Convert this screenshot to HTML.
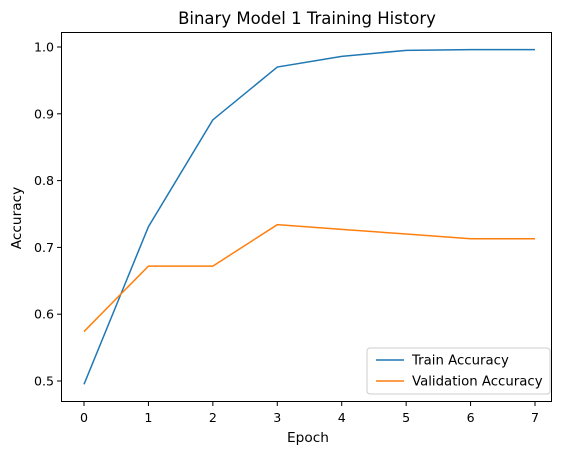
<!DOCTYPE html>
<html><head><meta charset="utf-8"><style>
body{margin:0;background:#fff;}
svg{font-family:"DejaVu Sans","Liberation Sans",sans-serif;}
</style></head><body>
<svg id="chart" width="567" height="455">
<text x="307" y="24" font-size="16.5" text-anchor="middle">Binary Model 1 Training History</text>
<text x="308" y="442" font-size="13.7" text-anchor="middle">Epoch</text>
<text transform="translate(21,218) rotate(-90)" font-size="13.7" text-anchor="middle">Accuracy</text>
<g id="ticks"></g>
<g id="series"></g>
<rect x="61.5" y="32.5" width="490" height="369" fill="none" stroke="#000" stroke-width="1"/>
<g>
<rect x="367" y="348" width="183" height="46" rx="3" fill="#fff" stroke="#ccc"/>
<line x1="376" y1="360" x2="404" y2="360" stroke="#1f77b4" stroke-width="1.5"/>
<text x="412" y="364.5" font-size="13.3">Train Accuracy</text>
<line x1="376" y1="381" x2="404" y2="381" stroke="#ff7f0e" stroke-width="1.5"/>
<text x="412" y="385.5" font-size="13.3">Validation Accuracy</text>
</g>
</svg>
<script>
const epochs=[0,1,2,3,4,5,6,7];
const trainAcc=[0.495,0.731,0.891,0.970,0.986,0.995,0.996,0.996];
const valAcc=[0.574,0.672,0.672,0.734,0.727,0.720,0.713,0.713];
const yTicks=[0.5,0.6,0.7,0.8,0.9,1.0];
const xTicks=[0,1,2,3,4,5,6,7];
const NS="http://www.w3.org/2000/svg";
const xs=v=>84+v*(535-84)/7;
const ys=v=>381-(v-0.5)*668;
const tg=document.getElementById('ticks'),sg=document.getElementById('series');
function mk(t,a,p){const e=document.createElementNS(NS,t);for(const k in a)e.setAttribute(k,a[k]);p.appendChild(e);return e;}
xTicks.forEach(t=>{
 const l=mk('line',{x1:xs(t),x2:xs(t),y1:402,y2:406,stroke:'#000'},tg);
 
 
 const tx=mk('text',{x:xs(t),y:422,'font-size':12.6,'text-anchor':'middle'},tg);tx.textContent=t;
 
 
});
yTicks.forEach(t=>{
 const l=mk('line',{x1:57,x2:61,y1:ys(t),y2:ys(t),stroke:'#000'},tg);
 
 
 const tx=mk('text',{x:54,y:ys(t)+4.5,'font-size':12.6,'text-anchor':'end'},tg);tx.textContent=t.toFixed(1);
 
 
});
function line(vals,color,name){
 const p=mk('polyline',{points:vals.map((v,i)=>xs(epochs[i])+','+ys(v)).join(' '),fill:'none',stroke:color,'stroke-width':1.5},sg);
 
 
}
line(trainAcc,'#1f77b4','train-accuracy-line');
line(valAcc,'#ff7f0e','validation-accuracy-line');
</script>
</body></html>
